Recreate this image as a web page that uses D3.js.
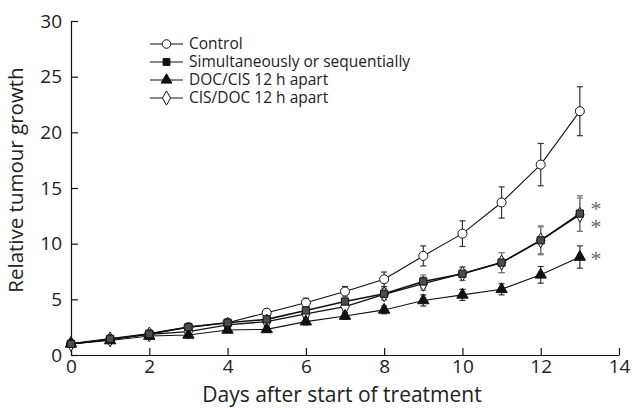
<!DOCTYPE html>
<html>
<head>
<meta charset="utf-8">
<script src="https://cdn.jsdelivr.net/npm/d3@7"></script>
<style>
 body { margin: 0; background: #fff; }
 text { font-family: "Open Sans", "Noto Sans", sans-serif; }
</style>
</head>
<body>
<div id="chart"></div>
<script>
//Days after start of treatment.
var days = [0, 1, 2, 3, 4, 5, 6, 7, 8, 9, 10, 11, 12, 13];

//Relative tumour growth per group.
var control = [1.0, 1.4, 1.9, 2.5, 2.9, 3.8, 4.7, 5.7, 6.8, 8.9, 10.9, 13.7, 17.1, 21.9];
var controlErr = [0.1, 0.15, 0.15, 0.2, 0.25, 0.3, 0.4, 0.45, 0.65, 0.9, 1.15, 1.4, 1.9, 2.2];

var simSeq = [1.0, 1.45, 1.9, 2.5, 2.9, 3.2, 4.0, 4.8, 5.5, 6.6, 7.3, 8.3, 10.3, 12.7];
var simSeqErr = [0.1, 0.15, 0.15, 0.2, 0.25, 0.3, 0.35, 0.45, 0.5, 0.6, 0.6, 0.9, 1.3, 1.6];

var docCis = [1.0, 1.3, 1.7, 1.8, 2.25, 2.3, 3.0, 3.5, 4.05, 4.9, 5.4, 5.9, 7.2, 8.8];
var docCisErr = [0.1, 0.1, 0.15, 0.15, 0.2, 0.25, 0.3, 0.3, 0.35, 0.5, 0.5, 0.5, 0.75, 1.0];

var cisDoc = [1.0, 1.4, 1.85, 2.1, 2.7, 3.0, 3.7, 4.35, 5.45, 6.4, 7.3, 8.3, 10.3, 12.6];
var cisDocErr = [0.1, 0.15, 0.15, 0.2, 0.25, 0.3, 0.35, 0.4, 0.5, 0.6, 0.6, 0.9, 1.2, 1.5];

var legendLabels = ["Control", "Simultaneously or sequentially", "DOC/CIS 12 h apart", "CIS/DOC 12 h apart"];

//Axis ticks.
var xTicks = [0, 2, 4, 6, 8, 10, 12, 14];
var yTicks = [0, 5, 10, 15, 20, 25, 30];

//Series marked as significant (asterisk at the last day).
var starSeries = [simSeq, cisDoc, docCis];

var width = 632, height = 408;
var plotLeft = 71, plotRight = 619, plotTop = 21, plotBottom = 355;

var svg = d3.select("#chart").append("svg").attr("width", width).attr("height", height);

var x = d3.scaleLinear().domain([0, 14]).range([plotLeft, plotRight]);
var y = d3.scaleLinear().domain([0, 30]).range([plotBottom, plotTop]);

//Axes, ticks pointing inwards.
var xAxis = svg.append("g").attr("transform", "translate(0," + plotBottom + ")")
 .call(d3.axisBottom(x).tickValues(xTicks).tickSizeInner(-7).tickSizeOuter(0).tickPadding(4));
var yAxis = svg.append("g").attr("transform", "translate(" + plotLeft + ",0)")
 .call(d3.axisLeft(y).tickValues(yTicks).tickSizeInner(-7).tickSizeOuter(0).tickPadding(9));

[xAxis, yAxis].forEach(function(a)
{
 a.select(".domain").attr("stroke", "#111").attr("stroke-width", 1.2);
 a.selectAll(".tick line").attr("stroke", "#111").attr("stroke-width", 1.2);
 a.selectAll(".tick text").attr("fill", "#222").style("font-size", "19px").style("font-family", "'Open Sans', sans-serif");
});

//Axis titles.
svg.append("text").attr("x", (plotLeft + plotRight) / 2 - 3).attr("y", 402).attr("text-anchor", "middle")
 .style("font-size", "21px").attr("fill", "#222").text("Days after start of treatment");
svg.append("text").attr("transform", "translate(23," + 180 + ") rotate(-90)").attr("text-anchor", "middle")
 .style("font-size", "20.5px").attr("fill", "#222").text("Relative tumour growth");

var series = [
 {vals: control, err: controlErr, shape: d3.symbolCircle, size: 64, fill: "#fff", errColor: "#333", lw: 1.1},
 {vals: cisDoc, err: cisDocErr, shape: d3.symbolDiamond, size: 64, fill: "#fff", errColor: "#777", lw: 1.3},
 {vals: docCis, err: docCisErr, shape: d3.symbolTriangle, size: 56, fill: "#111", errColor: "#333", lw: 1.1},
 {vals: simSeq, err: simSeqErr, shape: d3.symbolSquare, size: 52, fill: "#4d4d4d", errColor: "#777", lw: 1.6}
];

var line = d3.line().x(function(d) { return x(d[0]); }).y(function(d) { return y(d[1]); });

//Lines.
series.forEach(function(s)
{
 svg.append("path").datum(days.map(function(d, i) { return [d, s.vals[i]]; }))
  .attr("d", line).attr("fill", "none").attr("stroke", "#111").attr("stroke-width", s.lw);
});

//Error bars.
series.forEach(function(s)
{
 var g = svg.append("g").attr("stroke", s.errColor).attr("stroke-width", 1.2);
 days.forEach(function(d, i)
 {
  var hi = y(s.vals[i] + s.err[i]), lo = y(s.vals[i] - s.err[i]), cx = x(d);
  g.append("line").attr("x1", cx).attr("x2", cx).attr("y1", hi).attr("y2", lo);
  g.append("line").attr("x1", cx - 3).attr("x2", cx + 3).attr("y1", hi).attr("y2", hi);
  g.append("line").attr("x1", cx - 3).attr("x2", cx + 3).attr("y1", lo).attr("y2", lo);
 });
});

//Markers.
series.forEach(function(s)
{
 svg.append("g").selectAll("path").data(days).enter().append("path")
  .attr("transform", function(d, i) { return "translate(" + x(d) + "," + y(s.vals[i]) + ")"; })
  .attr("d", d3.symbol().type(s.shape).size(s.size))
  .attr("fill", s.fill).attr("stroke", "#111").attr("stroke-width", 1);
});

//Asterisks (thin, grey, serif style).
var starOffsets = [-10, 7, -3];
svg.append("g").selectAll("text").data(starSeries).enter().append("text")
 .attr("x", 596).attr("y", function(d, i) { return y(d[d.length - 1]) + starOffsets[i] + 12; })
 .attr("text-anchor", "middle").attr("fill", "#666")
 .style("font-family", "'Liberation Serif', serif").style("font-size", "22px").text("*");

//Legend.
var legendShapes = [series[0], series[3], series[2], series[1]];
var legend = svg.append("g");
legendLabels.forEach(function(label, i)
{
 var ly = 44 + i * 18;
 legend.append("line").attr("x1", 150).attr("x2", 183).attr("y1", ly).attr("y2", ly).attr("stroke", "#111").attr("stroke-width", 1.1);
 legend.append("path").attr("transform", "translate(166.5," + ly + ")")
  .attr("d", d3.symbol().type(legendShapes[i].shape).size(legendShapes[i].size * 0.9))
  .attr("fill", legendShapes[i].fill === "#4d4d4d" ? "#111" : legendShapes[i].fill).attr("stroke", "#111");
 legend.append("text").attr("x", 189).attr("y", ly + 5).style("font-size", "15.5px").attr("fill", "#222").text(label);
});
</script>
</body>
</html>
